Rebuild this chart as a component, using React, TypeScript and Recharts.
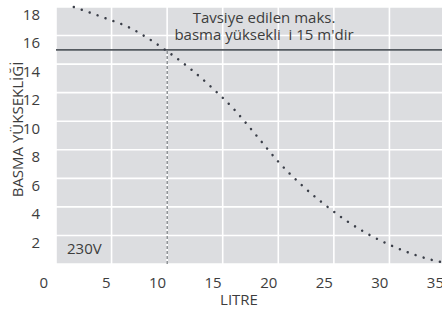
import React from 'react'
import {
  LineChart,
  Line,
  XAxis,
  YAxis,
  CartesianGrid,
  ReferenceLine,
} from 'recharts'

// values
const litre = [1.6, 4.5, 6.5, 8.4, 10, 12, 14, 16, 18, 20, 22, 24, 26, 28, 30, 32, 34, 35]
const head = [18, 17.2, 16.6, 15.75, 14.9, 13.73, 12.37, 10.85, 9.03, 7.17, 5.6, 4.27, 3.1, 2.13, 1.35, 0.72, 0.25, 0.08]
const xTicks = [0, 5, 10, 15, 20, 25, 30, 35]
const yTicks = [0, 2, 4, 6, 8, 10, 12, 14, 16, 18]
const maxHead = 15
const markLitre = 10
const noteLines = ['Tavsiye edilen maks.', 'basma yüksekli\u00a0\u00a0i 15 m\'dir']
const voltage = '230V'

const data = litre.map((x, i) => ({ x, y: head[i] }))

const FONT = '"Open Sans", sans-serif'
const TEXT = '#3d3d3d'
const INK = '#555a60'
const PANEL = '#dcdde0'

function XTick({ x, y, payload }: any) {
  const shift = payload.value === 0 ? -8 : -1
  return (
    <text x={x + shift} y={y} dy={16} textAnchor="end" fill={TEXT} fontSize={15} fontFamily={FONT}>
      {payload.value}
    </text>
  )
}

function YTick({ x, y, payload }: any) {
  // the 0 is shared with the x axis, drawn there
  if (payload.value === 0) return null
  return (
    <text x={x - 8} y={y} dy={12.5} textAnchor="end" fill={TEXT} fontSize={15} fontFamily={FONT}>
      {payload.value}
    </text>
  )
}

function YTitle({ viewBox }: any) {
  const cx = viewBox.x + 18
  const cy = viewBox.y + viewBox.height / 2 - 6
  return (
    <text
      x={cx}
      y={cy}
      transform={`rotate(-90 ${cx} ${cy})`}
      textAnchor="middle"
      dy={5}
      fill={TEXT}
      fontSize={15}
      fontFamily={FONT}
    >
      BASMA YÜKSEKLİĞİ
    </text>
  )
}

// x title, plus the 230V tag sitting just above the axis in the plot corner
function XTitle({ viewBox }: any) {
  return (
    <g fill={TEXT} fontSize={15} fontFamily={FONT}>
      <text x={viewBox.x + viewBox.width / 2 - 11.5} y={viewBox.y + 41} textAnchor="middle">
        LITRE
      </text>
      <text x={viewBox.x + 11} y={viewBox.y - 10}>
        {voltage}
      </text>
    </g>
  )
}

function Note({ viewBox }: any) {
  const cx = viewBox.x + 208
  return (
    <g fill={TEXT} fontSize={15} fontFamily={FONT}>
      <text x={cx} y={viewBox.y - 27} textAnchor="middle">
        {noteLines[0]}
      </text>
      <text x={cx} y={viewBox.y - 10} textAnchor="middle">
        {noteLines[1]}
      </text>
    </g>
  )
}

export default function App() {
  return (
    <div style={{ position: 'absolute', left: 0, top: 0 }}>
      <LineChart width={442} height={311} data={data} margin={{ top: 7, right: -3, bottom: 0, left: 0 }}>
        <CartesianGrid fill={PANEL} fillOpacity={1} stroke="#ffffff" strokeWidth={1.6} />
        <XAxis
          dataKey="x"
          type="number"
          domain={[0, 35]}
          ticks={xTicks}
          height={47}
          axisLine={false}
          tickLine={false}
          tick={<XTick />}
          interval={0}
          label={<XTitle />}
        />
        <YAxis
          type="number"
          domain={[0, 18]}
          ticks={yTicks}
          width={56}
          axisLine={false}
          tickLine={false}
          tick={<YTick />}
          interval={0}
          label={<YTitle />}
        />
        <ReferenceLine y={maxHead} stroke={INK} strokeWidth={1.6} label={<Note />} />
        <ReferenceLine
          segment={[{ x: markLitre, y: 0 }, { x: markLitre, y: maxHead }]}
          stroke={INK}
          strokeWidth={1}
          strokeDasharray="3 2"
        />
        <Line
          dataKey="y"
          type="monotone"
          stroke="#3a3e48"
          strokeWidth={2.5}
          strokeDasharray="0.01 8.4"
          strokeLinecap="round"
          dot={false}
          isAnimationActive={false}
        />
      </LineChart>
    </div>
  )
}
